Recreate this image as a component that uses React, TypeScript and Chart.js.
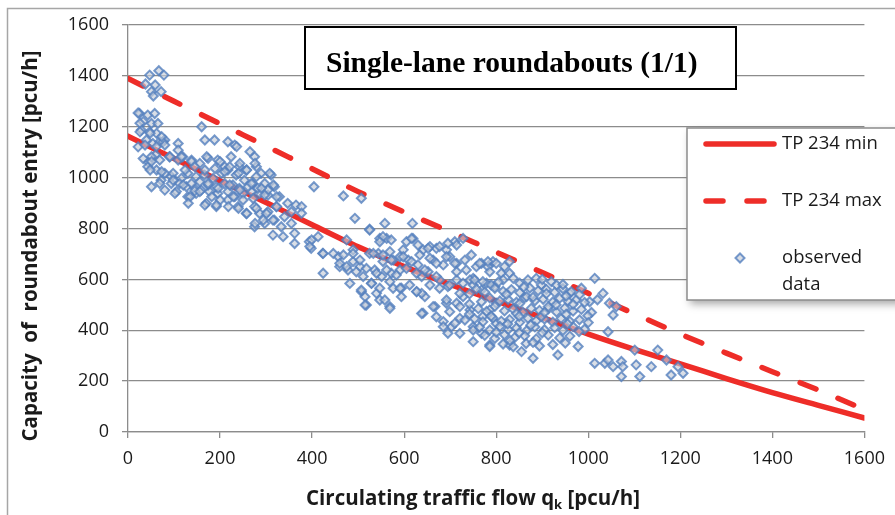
import React, { useEffect, useRef } from "react";
import { Chart, registerables } from "chart.js";

Chart.register(...registerables);

// ---------- data ----------
const curveFlow = [0, 100, 200, 300, 400, 500, 600, 700, 800, 900, 1000, 1100, 1200, 1300, 1400, 1500, 1600];
const tpMin = [1163, 1075, 988, 902, 815, 728, 650, 580, 515, 450, 385, 325, 268, 210, 155, 105, 55];
const tpMax = [1390, 1300, 1212, 1124, 1035, 945, 865, 787, 707, 627, 545, 465, 385, 310, 237, 165, 88];

const axisTicks = [0, 200, 400, 600, 800, 1000, 1200, 1400, 1600];

const titleText = "Single-lane roundabouts (1/1)";
const yTitle = "Capacity  of  roundabout entry [pcu/h]";
const xTitleMain = "Circulating traffic flow q";
const xTitleSub = "k";
const xTitleTail = " [pcu/h]";
const legendLabels = ["TP 234 min", "TP 234 max", "observed", "data"];

// observed (circulating flow, entry capacity) pairs
const observed: [number, number][] = [
  [47, 1403], [67, 1420], [78, 1403], [38, 1368], [59, 1364], [51, 1338], [72, 1338], [55, 1321],
  [25, 1252], [43, 1246], [58, 1252], [33, 1220], [51, 1213], [65, 1213], [29, 1187], [47, 1180],
  [62, 1174], [40, 1148], [22, 1121], [54, 1134], [69, 1141], [80, 1148], [22, 1254], [26, 1214],
  [109, 1134], [167, 1148], [188, 1148], [160, 1200], [217, 1141], [232, 1128], [109, 1108], [76, 1141],
  [33, 1075], [45, 1060], [60, 1090],
  [51, 1082], [69, 1069], [90, 1082], [109, 1069], [119, 1082], [138, 1069], [156, 1056], [174, 1076],
  [195, 1069], [210, 1043], [224, 1082], [242, 1043], [257, 1030], [275, 1082], [279, 1043], [289, 1017], [311, 1010],
  [43, 1043], [62, 1030], [80, 1017], [94, 1004], [116, 997], [130, 1017], [148, 1004], [166, 1010],
  [185, 997], [203, 1017], [217, 1030], [235, 1010], [253, 990], [271, 977], [297, 977], [318, 964],
  [51, 964], [80, 951], [105, 945], [127, 964], [145, 958], [159, 951], [177, 945], [195, 938],
  [217, 945], [232, 925], [250, 938], [268, 945], [286, 938], [304, 931], [329, 925], [347, 899], [365, 892],
  [72, 990], [94, 977], [112, 977], [138, 977], [156, 984], [174, 971], [192, 964], [210, 977],
  [228, 971], [242, 958], [261, 964], [282, 958], [304, 951],
  [130, 925], [148, 938], [170, 899], [192, 886], [217, 912], [239, 886], [257, 859], [275, 886],
  [286, 859], [304, 866], [322, 886], [340, 846], [355, 866],
  [275, 807], [297, 820], [318, 833], [333, 807], [355, 820], [315, 774], [337, 768], [362, 781],
  [362, 741], [394, 748], [398, 722], [423, 702],
  [26, 1180], [48, 1174], [73, 1161], [37, 1128], [62, 1122], [80, 1128], [236, 1122], [265, 1102],
  [51, 1063], [91, 1082], [116, 1082], [138, 1063], [171, 1082], [200, 1063], [221, 1043], [243, 1056], [276, 1056],
  [48, 1030], [73, 1023], [98, 1017], [124, 1030], [145, 1043], [167, 1030], [189, 1036], [210, 1023],
  [240, 1017], [258, 1030], [279, 1004], [308, 1017],
  [69, 977], [98, 990], [120, 971], [145, 948], [174, 977], [196, 958], [221, 971], [243, 951],
  [268, 977], [290, 958], [316, 971],
  [102, 938], [135, 925], [156, 945], [182, 925], [200, 912], [229, 925], [250, 912], [272, 918],
  [297, 932], [323, 925],
  [131, 899], [167, 892], [192, 892], [218, 886], [240, 879], [258, 859], [279, 879], [301, 859],
  [323, 886], [276, 820], [294, 833], [315, 833],
  [404, 964], [468, 928], [507, 919], [493, 840], [525, 797], [558, 820], [618, 820], [377, 886],
  [377, 860], [399, 755], [413, 768], [395, 729], [424, 702], [424, 624], [475, 755], [457, 689],
  [460, 650], [478, 637], [489, 716], [504, 650], [511, 611], [525, 702], [547, 761], [562, 761],
  [544, 702], [554, 670], [569, 709], [576, 676], [591, 689], [605, 748], [619, 761], [598, 716],
  [609, 676], [591, 637], [572, 624], [551, 611], [536, 637], [529, 585], [507, 552], [515, 532],
  [518, 499], [540, 545], [547, 519], [569, 493], [576, 565], [594, 565], [627, 552], [645, 532],
  [667, 493], [641, 467], [630, 657], [641, 716], [656, 729], [670, 722], [692, 716], [710, 748],
  [728, 761], [746, 696], [663, 676], [685, 657], [699, 689], [714, 663], [735, 637], [757, 650],
  [768, 663], [782, 650], [793, 670], [677, 598], [695, 572], [714, 598], [728, 585], [750, 604],
  [768, 558], [779, 585], [797, 572], [692, 506], [714, 506], [728, 532], [743, 480], [685, 434],
  [703, 414], [721, 447], [750, 414], [771, 454], [786, 480], [800, 506], [750, 355], [768, 388],
  [786, 342], [800, 427], [652, 630], [638, 611], [460, 663], [489, 670], [446, 702],
  [525, 794], [554, 768], [547, 748], [572, 755], [616, 761], [630, 735], [652, 722], [677, 729],
  [695, 742], [714, 735], [468, 696], [489, 702], [504, 676], [533, 702], [554, 696], [572, 676],
  [598, 689], [616, 670], [634, 696], [656, 683], [670, 663], [692, 689], [710, 663], [732, 676],
  [475, 650], [496, 630], [518, 643], [540, 624], [562, 637], [583, 617], [605, 643], [627, 624],
  [645, 637], [670, 611], [714, 630], [743, 598],
  [482, 584], [507, 558], [529, 584], [547, 565], [569, 591], [591, 565], [612, 578], [638, 545],
  [656, 578], [677, 565], [699, 578], [721, 545], [750, 578],
  [515, 499], [558, 519], [569, 486], [594, 532], [627, 552], [663, 493], [692, 519], [721, 493],
  [638, 466], [670, 453], [699, 473], [685, 414], [710, 427], [732, 440], [750, 401], [695, 388], [721, 388],
  [764, 663], [782, 670], [800, 663], [818, 650], [829, 670], [786, 630], [811, 624], [829, 624],
  [753, 598], [771, 591], [789, 578], [815, 598], [837, 604], [851, 585], [869, 598], [887, 604],
  [898, 578], [920, 591], [931, 578], [1014, 604], [960, 545], [985, 565], [1003, 512], [1032, 545],
  [1046, 506], [1054, 460], [1061, 493], [1043, 394], [978, 336], [934, 303], [880, 290], [855, 316],
  [829, 342], [786, 336], [1101, 322], [1151, 322], [1014, 270], [1036, 270], [1054, 257],
  [1072, 277], [1075, 257], [1072, 218], [1104, 264], [1112, 218], [1137, 257], [1170, 283], [1180, 224],
  [1195, 257], [1206, 231], [1043, 283],
  [757, 562], [775, 550], [797, 565], [815, 553], [833, 560], [851, 548], [873, 566], [891, 555],
  [909, 561], [927, 549], [945, 563], [963, 552],
  [768, 512], [786, 527], [808, 515], [826, 521], [844, 510], [862, 528], [884, 516],
  [902, 522], [923, 511], [938, 526], [956, 514], [974, 520], [992, 509],
  [761, 485], [779, 474], [818, 476], [837, 483], [858, 471], [876, 486], [894, 478],
  [913, 484], [931, 472], [949, 487], [967, 475], [985, 482], [1007, 470],
  [753, 445], [771, 433], [793, 448], [811, 436], [829, 442], [851, 431], [869, 447], [887, 437],
  [905, 444], [923, 432], [941, 446], [960, 435], [981, 441],
  [764, 412], [786, 401], [808, 415], [826, 403], [844, 409], [866, 398], [884, 413], [905, 402],
  [927, 410], [945, 399], [967, 414], [992, 404],
  [775, 380], [797, 368], [818, 382], [840, 371], [862, 378], [887, 366], [913, 381], [938, 370], [960, 377],
  [815, 346], [837, 335], [865, 348], [894, 338], [923, 344],
  [742, 543], [822, 541], [866, 532], [909, 544], [952, 534], [981, 540],
  [742, 464], [789, 455], [844, 466], [898, 454], [952, 463], [999, 457],
  [742, 503], [797, 494], [851, 505], [913, 493], [967, 502],
  [805, 590], [860, 570], [900, 600], [945, 580], [880, 530], [930, 500], [850, 455], [905, 470],
  [825, 425], [875, 420], [955, 425], [980, 395], [850, 390], [900, 390], [800, 392], [830, 360],
  [880, 352], [950, 350], [1000, 430], [1020, 520],
];

// ---------- styles ----------
const RED = "rgb(238,45,40)";
const GRID = "#8c8c8c";
const TEXT = "#1a1a1a";
const SANS = "'Open Sans', 'Noto Sans', sans-serif";

const decorPlugin = {
  id: "decor",
  beforeDraw(chart: any) {
    const ctx = chart.ctx as CanvasRenderingContext2D;
    ctx.save();
    ctx.fillStyle = "#ffffff";
    ctx.fillRect(0, 0, chart.width, chart.height);
    ctx.strokeStyle = "#a6a6a6";
    ctx.lineWidth = 1.5;
    ctx.beginPath();
    ctx.moveTo(7.5, chart.height);
    ctx.lineTo(7.5, 8.5);
    ctx.lineTo(chart.width, 8.5);
    ctx.stroke();
    ctx.restore();
  },
  afterDraw(chart: any) {
    const ctx = chart.ctx as CanvasRenderingContext2D;
    const ds = chart.data.datasets;
    ctx.save();

    // title box
    ctx.fillStyle = "#ffffff";
    ctx.fillRect(305, 27, 431, 62);
    ctx.strokeStyle = "#000000";
    ctx.lineWidth = 2;
    ctx.strokeRect(305, 27, 431, 62);
    ctx.fillStyle = "#000000";
    ctx.font = "bold 29.5px 'Liberation Serif', 'Times New Roman', serif";
    ctx.textAlign = "left";
    ctx.textBaseline = "alphabetic";
    ctx.fillText(titleText, 326, 72);

    // legend box
    ctx.save();
    ctx.shadowColor = "rgba(0,0,0,0.35)";
    ctx.shadowBlur = 8;
    ctx.shadowOffsetX = 3;
    ctx.shadowOffsetY = 4;
    ctx.fillStyle = "#ffffff";
    ctx.fillRect(687, 128, 230, 172);
    ctx.restore();
    ctx.strokeStyle = "#8c8c8c";
    ctx.lineWidth = 1.5;
    ctx.strokeRect(687, 128, 230, 172);

    const minDs = ds[1];
    const maxDs = ds[2];
    const obsDs = ds[0];
    ctx.lineCap = "round";
    ctx.strokeStyle = minDs.borderColor;
    ctx.lineWidth = minDs.borderWidth;
    ctx.setLineDash([]);
    ctx.beginPath();
    ctx.moveTo(706, 144);
    ctx.lineTo(774, 144);
    ctx.stroke();

    ctx.strokeStyle = maxDs.borderColor;
    ctx.lineWidth = maxDs.borderWidth;
    ctx.setLineDash([17, 24]);
    ctx.beginPath();
    ctx.moveTo(706, 201);
    ctx.lineTo(770, 201);
    ctx.stroke();
    ctx.setLineDash([]);

    // diamond marker
    const r = obsDs.pointRadius;
    ctx.beginPath();
    ctx.moveTo(740 - r, 258);
    ctx.lineTo(740, 258 - r);
    ctx.lineTo(740 + r, 258);
    ctx.lineTo(740, 258 + r);
    ctx.closePath();
    ctx.fillStyle = obsDs.backgroundColor;
    ctx.fill();
    ctx.strokeStyle = obsDs.borderColor;
    ctx.lineWidth = obsDs.borderWidth;
    ctx.stroke();

    ctx.fillStyle = TEXT;
    ctx.font = `18.5px ${SANS}`;
    ctx.textBaseline = "middle";
    ctx.fillText(legendLabels[0], 782, 144);
    ctx.fillText(legendLabels[1], 782, 201);
    ctx.fillText(legendLabels[2], 782, 258);
    ctx.fillText(legendLabels[3], 782, 285);

    // y axis title
    ctx.save();
    ctx.translate(31, 246);
    ctx.rotate(-Math.PI / 2);
    ctx.font = `bold 20.5px ${SANS}`;
    ctx.textAlign = "center";
    ctx.textBaseline = "middle";
    ctx.fillStyle = TEXT;
    ctx.fillText(yTitle, 0, 0);
    ctx.restore();

    // x axis title with subscript
    const mainFont = `bold 20.5px ${SANS}`;
    const subFont = `bold 13px ${SANS}`;
    ctx.font = mainFont;
    const w1 = ctx.measureText(xTitleMain).width;
    const w3 = ctx.measureText(xTitleTail).width;
    ctx.font = subFont;
    const w2 = ctx.measureText(xTitleSub).width;
    const total = w1 + w2 + w3;
    let x = 473 - total / 2;
    const base = 505;
    ctx.textAlign = "left";
    ctx.textBaseline = "alphabetic";
    ctx.fillStyle = TEXT;
    ctx.font = mainFont;
    ctx.fillText(xTitleMain, x, base);
    x += w1;
    ctx.font = subFont;
    ctx.fillText(xTitleSub, x, base + 4);
    x += w2;
    ctx.font = mainFont;
    ctx.fillText(xTitleTail, x, base);

    ctx.restore();
  },
};

export default function App() {
  const ref = useRef<HTMLCanvasElement | null>(null);

  useEffect(() => {
    if (!ref.current) return;
    const chart = new Chart(ref.current, {
      type: "scatter",
      data: {
        datasets: [
          {
            label: "observed data",
            data: observed.map(([x, y]) => ({ x, y })),
            pointStyle: "rectRot",
            pointRadius: 4.5,
            borderWidth: 2,
            borderColor: "rgba(84,128,190,0.8)",
            backgroundColor: "rgba(196,204,216,0.65)",
            order: 0,
          },
          {
            type: "line",
            label: "TP 234 min",
            data: curveFlow.map((x, i) => ({ x, y: tpMin[i] })),
            borderColor: RED,
            borderWidth: 5.5,
            pointRadius: 0,
            tension: 0.3,
            borderCapStyle: "round",
            fill: false,
            order: 1,
          } as any,
          {
            type: "line",
            label: "TP 234 max",
            data: curveFlow.map((x, i) => ({ x, y: tpMax[i] })),
            borderColor: RED,
            borderWidth: 5.5,
            borderDash: [17, 24],
            borderCapStyle: "round",
            pointRadius: 0,
            tension: 0.3,
            fill: false,
            order: 1,
          } as any,
        ],
      },
      options: {
        responsive: false,
        animation: false,
        devicePixelRatio: 1,
        layout: { padding: { left: 0, right: 30, top: 25, bottom: 0 } },
        plugins: {
          legend: { display: false },
          tooltip: { enabled: false },
          title: { display: false },
        },
        scales: {
          x: {
            type: "linear",
            min: 0,
            max: 1600,
            afterBuildTicks: (s: any) => {
              s.ticks = axisTicks.map((v) => ({ value: v }));
            },
            afterFit: (s: any) => {
              s.height = 83;
            },
            grid: {
              drawOnChartArea: false,
              drawTicks: true,
              tickLength: 6,
              color: GRID,
              lineWidth: 1.3,
            },
            border: { color: GRID, width: 1.3 },
            ticks: {
              color: TEXT,
              font: { family: SANS, size: 18 },
              padding: 10,
              maxRotation: 0,
              callback: (v: any) => String(v),
            },
          },
          y: {
            type: "linear",
            min: 0,
            max: 1600,
            afterBuildTicks: (s: any) => {
              s.ticks = axisTicks.map((v) => ({ value: v }));
            },
            afterFit: (s: any) => {
              s.width = 128;
            },
            grid: {
              drawOnChartArea: true,
              drawTicks: true,
              tickLength: 6,
              color: GRID,
              lineWidth: 1.3,
            },
            border: { color: GRID, width: 1.3 },
            ticks: {
              color: TEXT,
              font: { family: SANS, size: 18 },
              padding: 13,
              callback: (v: any) => String(v),
            },
          },
        },
      },
      plugins: [decorPlugin],
    });
    return () => chart.destroy();
  }, []);

  return (
    <div style={{ position: "absolute", left: 0, top: 0, width: 895, height: 515 }}>
      <canvas ref={ref} width={895} height={515} style={{ display: "block" }} />
    </div>
  );
}
